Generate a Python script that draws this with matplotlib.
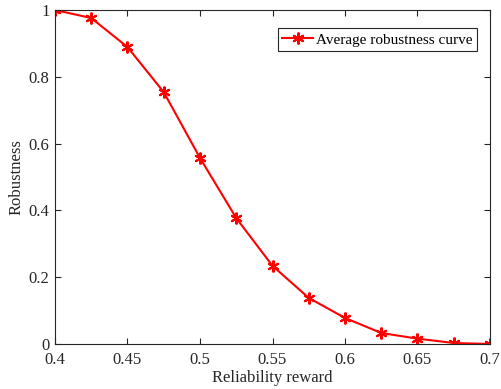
import matplotlib
matplotlib.use("Agg")
import matplotlib.pyplot as plt

# data
reward = [0.4, 0.425, 0.45, 0.475, 0.5, 0.525, 0.55, 0.575, 0.6, 0.625, 0.65, 0.675, 0.7]
robustness = [1.0, 0.976, 0.889, 0.754, 0.557, 0.377, 0.234, 0.138, 0.078, 0.033, 0.016, 0.003, 0.0]
xticks = [0.4, 0.45, 0.5, 0.55, 0.6, 0.65, 0.7]
xticklabels = ["0.4", "0.45", "0.5", "0.55", "0.6", "0.65", "0.7"]
yticks = [0, 0.2, 0.4, 0.6, 0.8, 1]
yticklabels = ["0", "0.2", "0.4", "0.6", "0.8", "1"]

plt.rcParams["font.family"] = ["Liberation Serif", "DejaVu Serif"]
axcol = "#262626"

fig = plt.figure(figsize=(5.02, 3.89), dpi=100)
ax = fig.add_axes([55 / 502, 45 / 389, 435 / 502, 334 / 389])

ax.plot(reward, robustness, color="red", linewidth=1.5, marker=(6, 2, 0),
        markersize=8.5, markeredgewidth=1.5, label="Average robustness curve")

ax.set_xlim(0.4, 0.7)
ax.set_ylim(0, 1)
ax.set_xticks(xticks)
ax.set_xticklabels(xticklabels)
ax.set_yticks(yticks)
ax.set_yticklabels(yticklabels)
ax.tick_params(direction="in", top=True, right=True, length=4, width=0.8,
               labelsize=12, colors=axcol)
ax.tick_params(axis="x", pad=6)
ax.tick_params(axis="y", pad=4)
for s in ax.spines.values():
    s.set_color(axcol)
    s.set_linewidth(0.8)

ax.set_xlabel("Reliability reward", fontsize=12, color=axcol, labelpad=1)
ax.set_ylabel("Robustness", fontsize=12, color=axcol, labelpad=3)

leg = ax.legend(loc="upper right", bbox_to_anchor=(0.97, 0.945), fontsize=11,
                frameon=True, fancybox=False, edgecolor=axcol, framealpha=1,
                handlelength=2.0, handletextpad=0.2, borderpad=0.3, borderaxespad=0)
leg.get_frame().set_linewidth(0.8)

fig.savefig("out.png", dpi=100)
